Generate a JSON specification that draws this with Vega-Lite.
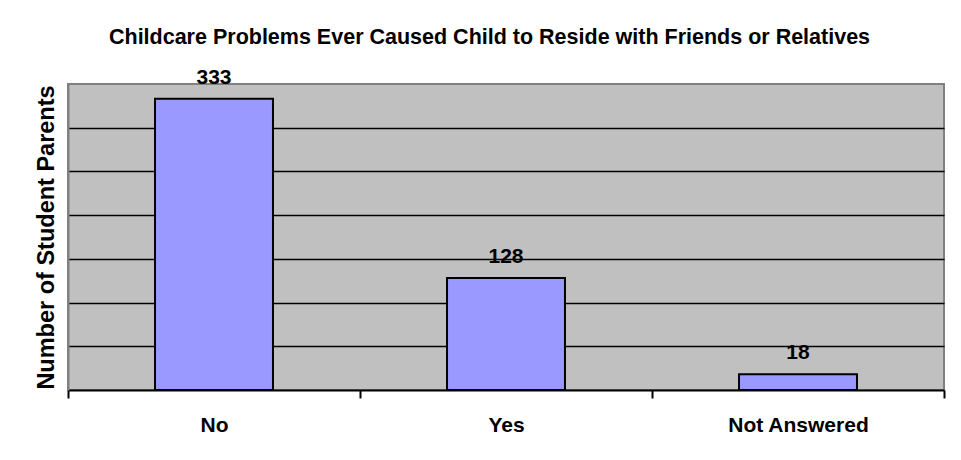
{
  "$schema": "https://vega.github.io/schema/vega-lite/v6.json",
  "autosize": {"type": "none"},
  "padding": {"left": 68, "top": 84, "right": 17, "bottom": 70},
  "width": 876,
  "height": 306,
  "background": "white",
  "title": {
    "text": "Childcare Problems Ever Caused Child to Reside with Friends or Relatives",
    "font": "Liberation Sans",
    "fontSize": 21.5,
    "fontWeight": "bold",
    "color": "black",
    "anchor": "middle",
    "frame": "bounds",
    "baseline": "alphabetic",
    "offset": 1
  },
  "data": {
    "values": [
      {"answer": "No", "parents": 333},
      {"answer": "Yes", "parents": 128},
      {"answer": "Not Answered", "parents": 18}
    ]
  },
  "encoding": {
    "x": {
      "field": "answer",
      "type": "nominal",
      "sort": null,
      "scale": {"paddingInner": 0, "paddingOuter": 0},
      "axis": {
        "title": null,
        "labelAngle": 0,
        "labelFont": "Liberation Sans",
        "labelFontSize": 21,
        "labelFontWeight": "bold",
        "labelColor": "black",
        "labelPadding": 16,
        "domainColor": "black",
        "domainWidth": 2,
        "tickColor": "black",
        "tickWidth": 2,
        "tickSize": 8,
        "tickBand": "extent",
        "grid": false
      }
    },
    "y": {
      "field": "parents",
      "type": "quantitative",
      "scale": {"domain": [0, 350], "nice": false},
      "axis": {
        "title": "Number of Student Parents",
        "titleFont": "Liberation Sans",
        "titleFontSize": 23.5,
        "titleFontWeight": "bold",
        "titleColor": "black",
        "titlePadding": 10,
        "values": [50, 100, 150, 200, 250, 300],
        "labels": false,
        "ticks": false,
        "domainColor": "#808080",
        "domainWidth": 2,
        "grid": true,
        "gridColor": "black",
        "gridWidth": 1.5,
        "gridOpacity": 1
      }
    }
  },
  "layer": [
    {
      "mark": {"type": "bar", "fill": "#9999FF", "stroke": "black", "strokeWidth": 2, "width": {"band": 0.404}}
    },
    {
      "mark": {
        "type": "text",
        "font": "Liberation Sans",
        "fontSize": 21,
        "fontWeight": "bold",
        "color": "black",
        "baseline": "alphabetic",
        "dy": -15
      },
      "encoding": {"text": {"field": "parents", "type": "quantitative"}}
    }
  ],
  "config": {
    "view": {"fill": "#C0C0C0", "stroke": "#808080", "strokeWidth": 2}
  }
}
